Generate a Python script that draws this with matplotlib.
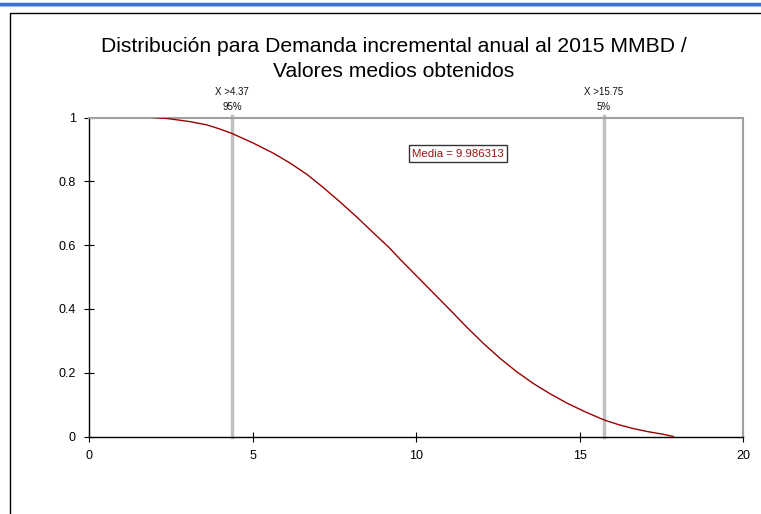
import matplotlib
matplotlib.use("Agg")
import matplotlib.pyplot as plt
from matplotlib.lines import Line2D

plt.rcParams['font.family'] = ['Liberation Sans', 'DejaVu Sans']

title = "Distribución para Demanda incremental anual al 2015 MMBD /\nValores medios obtenidos"
x_vals = [1.92, 2.38, 3.09, 3.6, 4.0, 4.37, 5.0, 5.64, 6.15, 6.66, 7.17, 7.68, 8.19, 8.69,
          9.2, 9.51, 10.02, 10.53, 11.04, 11.55, 12.06, 12.57, 13.08, 13.59, 14.1, 14.61,
          15.18, 15.75, 16.2, 16.64, 17.1, 17.56, 17.87]
y_vals = [1.0, 0.997, 0.987, 0.977, 0.964, 0.95, 0.921, 0.888, 0.857, 0.822, 0.780, 0.735,
          0.688, 0.639, 0.590, 0.556, 0.503, 0.450, 0.397, 0.343, 0.292, 0.245, 0.203,
          0.166, 0.134, 0.105, 0.077, 0.052, 0.037, 0.025, 0.015, 0.007, 0.0]
markers_x = [4.37, 15.75]
markers_label = ["X >4.37\n95%", "X >15.75\n5%"]
mean_text = "Media = 9.986313"
mean_pos = (11.28, 0.886)
x_ticks = [0, 5, 10, 15, 20]
y_ticks = [0, 0.2, 0.4, 0.6, 0.8, 1]
y_ticklabels = ["0", "0.2", "0.4", "0.6", "0.8", "1"]

W, H = 761, 514
fig = plt.figure(figsize=(W/100, H/100), dpi=100)

# top blue band and outer frame
fig.add_artist(Line2D([0, 1], [1 - 3.5/H, 1 - 3.5/H], color="#3b6fd6", lw=2.5, transform=fig.transFigure))
fig.add_artist(Line2D([0, 1], [1 - 5.5/H, 1 - 5.5/H], color="#9fb8ee", lw=0.8, transform=fig.transFigure))
fig.add_artist(Line2D([10/W, 10/W, 1], [0, 1 - 13/H, 1 - 13/H], color="black", lw=1.0, transform=fig.transFigure))

ax = fig.add_axes([89/W, (H - 436.5)/H, 654/W, 319/H])
ax.plot(x_vals, y_vals, color="#990000", lw=1.0, zorder=3)
for mx, ml in zip(markers_x, markers_label):
    ax.axvline(mx, ymax=1.005, color="#c0c0c0", lw=2.5, zorder=2, clip_on=False)
    ax.text(mx, 1.017, ml, ha="center", va="bottom", fontsize=7, linespacing=1.6, color="#111111")

ax.text(mean_pos[0], mean_pos[1], mean_text, ha="center", va="center", fontsize=8.2, color="#a01010",
        bbox=dict(boxstyle="square,pad=0.3", fc="white", ec="#333333", lw=1.0), zorder=5)

ax.set_xlim(0, 20)
ax.set_ylim(0, 1)
ax.set_xticks(x_ticks)
ax.set_yticks(y_ticks)
ax.set_yticklabels(y_ticklabels)
ax.tick_params(direction="inout", length=7, width=0.8, labelsize=9, pad=6)
ax.tick_params(axis="x", pad=6)
for s in ["top", "right"]:
    ax.spines[s].set_color("#a0a0a0")
    ax.spines[s].set_linewidth(1.5)
for s in ["left", "bottom"]:
    ax.spines[s].set_color("black")
    ax.spines[s].set_linewidth(1.0)

fig.text(394/W, 1 - 59/H, title, ha="center", va="center", fontsize=15.2, linespacing=1.4)

fig.savefig("out.png", dpi=100)
